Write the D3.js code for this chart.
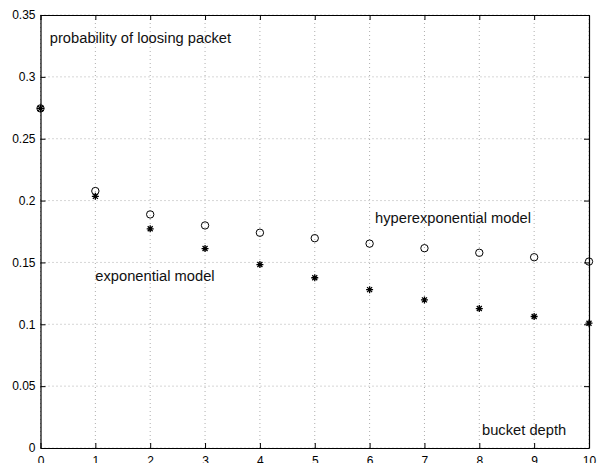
<!DOCTYPE html>
<html>
<head>
<meta charset="utf-8">
<script src="https://cdn.jsdelivr.net/npm/d3@7"></script>
<style>
  body { margin: 0; background: #fff; }
  svg { display: block; font-family: "Liberation Sans", Arial, Helvetica, sans-serif; }
</style>
</head>
<body>
<svg id="drawing_region"></svg>
<script>
// bucket depth on the x axis
const bucket_depth = [0, 1, 2, 3, 4, 5, 6, 7, 8, 9, 10];
// hyperexponential model (circles)
const hyper_values = [0.2745, 0.2077, 0.1888, 0.1799, 0.1740, 0.1696, 0.1652, 0.1615, 0.1578, 0.1542, 0.1507];
// exponential model (stars)
const expo_values = [0.2745, 0.2034, 0.1772, 0.1612, 0.1483, 0.1376, 0.1280, 0.1197, 0.1127, 0.1063, 0.1009];

const x_ticks = [0, 1, 2, 3, 4, 5, 6, 7, 8, 9, 10];
const y_ticks = [0, 0.05, 0.1, 0.15, 0.2, 0.25, 0.3, 0.35];

const config = {
    width: 597,
    height: 463,
    margin: { top: 15, right: 8, bottom: 15, left: 40.5 }
};

const svg = d3.select("#drawing_region")
    .attr("width", config.width)
    .attr("height", config.height);

const inner_width = config.width - config.margin.left - config.margin.right;
const inner_height = config.height - config.margin.top - config.margin.bottom;

const chart = svg.append("g")
    .attr("transform", `translate(${config.margin.left}, ${config.margin.top})`);

const xscale = d3.scaleLinear().domain([0, 10]).range([0, inner_width]);
const yscale = d3.scaleLinear().domain([0, 0.35]).range([inner_height, 0]);

// dotted grid
chart.append("g")
    .selectAll("line.vgrid")
    .data(x_ticks)
    .join("line")
    .attr("x1", d => xscale(d)).attr("x2", d => xscale(d))
    .attr("y1", 0).attr("y2", inner_height)
    .attr("stroke", "#999").attr("stroke-width", 0.8)
    .attr("stroke-dasharray", "1,3");

chart.append("g")
    .selectAll("line.hgrid")
    .data(y_ticks)
    .join("line")
    .attr("x1", 0).attr("x2", inner_width)
    .attr("y1", d => yscale(d)).attr("y2", d => yscale(d))
    .attr("stroke", "#999").attr("stroke-width", 0.8)
    .attr("stroke-dasharray", "1,3");

// axes, ticks point inward like matlab
const fmt = d => (d === 0 ? "0" : String(+d.toFixed(2)));

const xaxis = chart.append("g")
    .attr("transform", `translate(0, ${inner_height})`)
    .call(d3.axisBottom(xscale).tickValues(x_ticks).tickSizeInner(-5).tickSizeOuter(0).tickPadding(8).tickFormat(d3.format("d")));
const xaxis_top = chart.append("g")
    .call(d3.axisTop(xscale).tickValues(x_ticks).tickSizeInner(-5).tickSizeOuter(0).tickFormat(""));
const yaxis = chart.append("g")
    .call(d3.axisLeft(yscale).tickValues(y_ticks).tickSizeInner(-5).tickSizeOuter(0).tickPadding(5).tickFormat(fmt));
const yaxis_right = chart.append("g")
    .attr("transform", `translate(${inner_width}, 0)`)
    .call(d3.axisRight(yscale).tickValues(y_ticks).tickSizeInner(-5).tickSizeOuter(0).tickFormat(""));

[xaxis, xaxis_top, yaxis, yaxis_right].forEach(g => {
    g.select(".domain").attr("stroke", "#000").attr("stroke-width", 1.2);
    g.selectAll(".tick line").attr("stroke", "#000");
    g.selectAll("text")
        .attr("font-family", "'Liberation Sans', Arial, sans-serif")
        .attr("font-size", 12)
        .attr("fill", "#000");
});

// hyperexponential: open circles
chart.selectAll("circle.hyper")
    .data(bucket_depth)
    .join("circle")
    .attr("cx", d => xscale(d))
    .attr("cy", (d, i) => yscale(hyper_values[i]))
    .attr("r", 3.7)
    .attr("fill", "none")
    .attr("stroke", "#000")
    .attr("stroke-width", 1);

// exponential: asterisks
const star = "M-3.5,0L3.5,0M0,-3.5L0,3.5M-2.5,-2.5L2.5,2.5M-2.5,2.5L2.5,-2.5";
chart.selectAll("path.expo")
    .data(bucket_depth)
    .join("path")
    .attr("transform", (d, i) => `translate(${xscale(d)}, ${yscale(expo_values[i])})`)
    .attr("d", star)
    .attr("fill", "none")
    .attr("stroke", "#000")
    .attr("stroke-width", 1.3);

// text labels placed in data coordinates
const labels = [
    { text: "probability of loosing packet", x: 0.17, y: 0.3272 },
    { text: "hyperexponential model", x: 6.1, y: 0.1821 },
    { text: "exponential model", x: 1.0, y: 0.1350 },
    { text: "bucket depth", x: 8.05, y: 0.0102 }
];
chart.selectAll("text.label")
    .data(labels)
    .join("text")
    .attr("x", d => xscale(d.x))
    .attr("y", d => yscale(d.y))
    .attr("font-size", 14.7)
    .attr("fill", "#111")
    .text(d => d.text);
</script>
</body>
</html>
